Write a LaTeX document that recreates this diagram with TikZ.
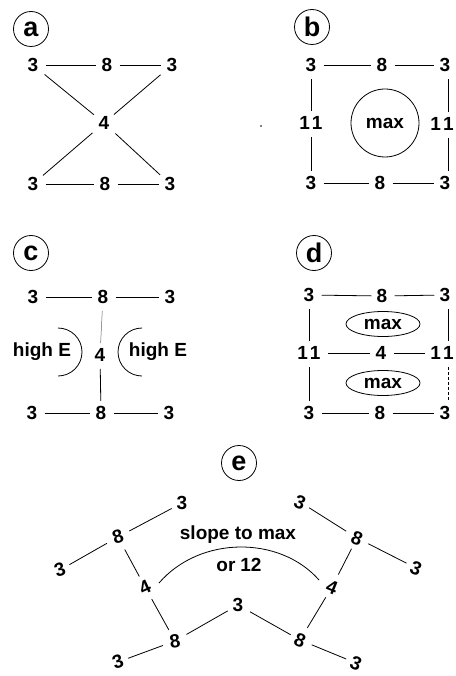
\documentclass[tikz,border=0pt]{standalone}
\usepackage{fontspec}
\setmainfont{Liberation Sans}
\usetikzlibrary{shapes.geometric}
\begin{document}
\begin{tikzpicture}[x=1pt,y=-1pt, line width=0.8pt,
  every node/.style={font=\fontsize{19}{22}\selectfont\bfseries, inner sep=2pt},
  lbl/.style={circle, draw, minimum size=35pt, inner sep=0pt, font=\fontsize{27}{29}\selectfont\bfseries},
  lk/.style={shorten <=5pt, shorten >=3pt},
  maxc/.style={circle, draw, minimum size=68pt, inner sep=0pt},
  maxe/.style={ellipse, draw, minimum width=74pt, minimum height=25pt, inner sep=0pt},
  le/.style={rotate=18},
  ri/.style={rotate=-22},
]
\useasboundingbox (0,0) rectangle (455,676);
% ---------- a ----------
\node[lbl] (la) at (31,29) {a};
\node (a3tl) at (33,65) {3};
\node (a8t) at (107,65) {8};
\node (a3tr) at (172,65) {3};
\node (a4) at (104,123) {4};
\node (a3bl) at (33,184) {3};
\node (a8b) at (105,184) {8};
\node (a3br) at (170,184) {3};
\draw[lk] (a3tl) -- (a8t);
\draw[lk] (a8t) -- (a3tr);
\draw[lk] (a3bl) -- (a8b);
\draw[lk] (a8b) -- (a3br);
\draw[lk] (a3tl) -- (a4);
\draw[lk] (a3tr) -- (a4);
\draw[lk] (a4) -- (a3bl);
\draw[lk] (a4) -- (a3br);
% ---------- b ----------
\node[lbl] (lb) at (312,27) {b};
\node (b3tl) at (311,65) {3};
\node (b8t) at (382,65) {8};
\node (b3tr) at (445,65) {3};
\node (b11l) at (311,123) {1\kern2pt1};
\node[maxc] (bmax) at (385,123) {max};
\node (b11r) at (442,124) {1\kern2pt1};
\node (b3bl) at (311,183) {3};
\node (b8b) at (380,183) {8};
\node (b3br) at (445,183) {3};
\fill (261,126) circle[radius=0.9];
\draw[lk] (b3tl) -- (b8t);
\draw[lk] (b8t) -- (b3tr);
\draw[lk] (b3bl) -- (b8b);
\draw[lk] (b8b) -- (b3br);
\draw[lk] (b3tl) -- (b11l);
\draw[lk] (b11l) -- (b3bl);
\draw[lk] (b3tr.south) ++(3,0) coordinate (b3trs) -- (b3trs |- b11r.north);
\draw[lk] (b11r.south -| b3trs) -- (b3trs |- b3br.north);
% ---------- c ----------
\node[lbl] (lc) at (31,253) {c};
\node (c3tl) at (33,297) {3};
\node (c8t) at (103,297) {8};
\node (c3tr) at (170,297) {3};
\node (c4) at (100,355) {4};
\node (chl) at (42,352) {high E};
\node (chr) at (158,352) {high E};
\node (c3bl) at (32,413) {3};
\node (c8b) at (101,413) {8};
\node (c3br) at (169,413) {3};
\draw[lk] (c3tl) -- (c8t);
\draw[lk] (c8t) -- (c3tr);
\draw[lk] (c3bl) -- (c8b);
\draw[lk] (c8b) -- (c3br);
\draw[lk, line width=0.5pt, black!60] (c8t) -- (c4);
\draw[lk] (c4) -- (c8b);
\draw (58,328) arc[start angle=-90, end angle=90, radius=24];
\draw (142,328) arc[start angle=-90, end angle=-270, radius=24];
% ---------- d ----------
\node[lbl] (ld) at (314,253) {d};
\node (d3tl) at (309,295) {3};
\node (d8t) at (382,296) {8};
\node (d3tr) at (445,295) {3};
\node[maxe] (dmax1) at (383,324) {max};
\node (d11l) at (309,353) {1\kern2pt1};
\node (d4) at (381,353) {4};
\node (d11r) at (442,353) {1\kern2pt1};
\node[maxe] (dmax2) at (383,383) {max};
\node (d3bl) at (309,413) {3};
\node (d8b) at (380,413) {8};
\node (d3br) at (445,413) {3};
\draw[lk] (d3tl) -- (d8t);
\draw[lk] (d8t) -- (d3tr);
\draw[lk] (d3bl) -- (d8b);
\draw[lk] (d8b) -- (d3br);
\draw[lk] (d11l) -- (d4);
\draw[lk] (d4) -- (d11r);
\draw[lk] (d3tl) -- (d11l);
\draw[lk] (d11l) -- (d3bl);
\draw[lk] (d3tr.south) ++(3,0) coordinate (d3trs) -- (d3trs |- d11r.north);
\draw[lk, dash pattern=on 3pt off 2pt] (d11r.south -| d3trs) -- (d3trs |- d3br.north);
% ---------- e ----------
\node[lbl] (le) at (239,463) {e};
\node (e3a) at (182,503) {3};
\node[le] (e8a) at (118,537) {8};
\node[le] (e3b) at (60,570) {3};
\node[rotate=25] (e4a) at (145,587) {4};
\node (e3m) at (238,605) {3};
\node[rotate=8] (e8b) at (175,641) {8};
\node[le] (e3c) at (118,662) {3};
\node[ri] (e3d) at (300,502) {3};
\node[ri] (e8c) at (357,538) {8};
\node[ri] (e3e) at (416,568) {3};
\node[ri] (e4b) at (332,587) {4};
\node[ri] (e8d) at (300,640) {8};
\node[ri] (e3f) at (356,663) {3};
\node (eslope) at (238,535) {slope to max};
\node (eor) at (239,565) {or\kern5pt12};
\draw[lk] (e8a) -- (e3a);
\draw[lk] (e8a) -- (e3b);
\draw[lk] (e8a) -- (e4a);
\draw[lk] (e4a) -- (e8b);
\draw[lk] (e8b) -- (e3m);
\draw[lk] (e8b) -- (e3c);
\draw[lk] (e3m) -- (e8d);
\draw[lk] (e8d) -- (e4b);
\draw[lk] (e4b) -- (e8c);
\draw[lk] (e8c) -- (e3d);
\draw[lk] (e8c) -- (e3e);
\draw[lk] (e8d) -- (e3f);
\coordinate (arcl) at (159,583);
\coordinate (arcr) at (319,580);
\draw (arcl) .. controls (200,535.5) and (280,535.5) .. (arcr);
\end{tikzpicture}
\end{document}
